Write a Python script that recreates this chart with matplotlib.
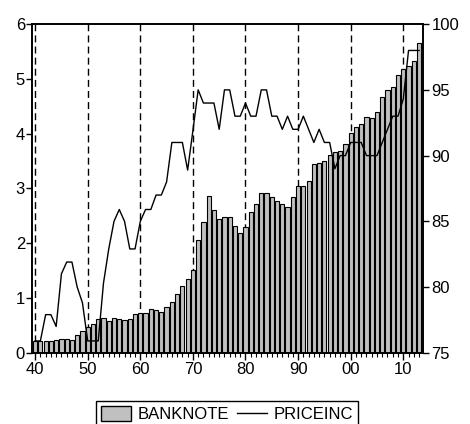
#!/usr/bin/env python3
"""
Banknote vs price index chart, EViews style.
"""

import matplotlib
matplotlib.use('Agg')
import matplotlib.pyplot as plt
from matplotlib.patches import Patch
from matplotlib.lines import Line2D

years = list(range(1940, 2014))

banknote = [
    0.21, 0.21, 0.21, 0.21, 0.24, 0.26, 0.26, 0.23, 0.33, 0.40,  # 1940s
    0.47, 0.52, 0.61, 0.64, 0.58, 0.64, 0.61, 0.60, 0.61, 0.70,  # 1950s
    0.73, 0.73, 0.80, 0.78, 0.75, 0.83, 0.92, 1.08, 1.22, 1.34,  # 1960s
    1.52, 2.06, 2.39, 2.86, 2.60, 2.45, 2.48, 2.48, 2.32, 2.19,  # 1970s
    2.29, 2.57, 2.71, 2.92, 2.92, 2.84, 2.78, 2.71, 2.66, 2.85,  # 1980s
    3.04, 3.05, 3.14, 3.44, 3.46, 3.51, 3.61, 3.67, 3.69, 3.81,  # 1990s
    4.02, 4.12, 4.17, 4.31, 4.29, 4.40, 4.67, 4.80, 4.85, 5.07,  # 2000s
    5.19, 5.24, 5.32, 5.66,
]

priceinc = [
    75.9, 75.9, 77.9, 77.9, 77.0, 81.0, 81.9, 81.9, 80.0, 78.8,
    75.9, 75.9, 75.9, 80.3, 82.9, 85.0, 85.9, 85.0, 82.9, 82.9,
    85.0, 85.9, 85.9, 87.0, 87.0, 88.0, 91.0, 91.0, 91.0, 88.9,
    91.9, 95.0, 94.0, 94.0, 94.0, 92.0, 95.0, 95.0, 93.0, 93.0,
    94.0, 93.0, 93.0, 95.0, 95.0, 93.0, 93.0, 92.0, 93.0, 92.0,
    92.0, 93.0, 92.0, 91.0, 92.0, 91.0, 91.0, 89.0, 90.0, 90.0,
    91.0, 91.0, 91.0, 90.0, 90.0, 90.0, 91.0, 92.0, 93.0, 93.0,
    94.3, 98.0, 98.0, 98.0,
]

decades = [1940, 1950, 1960, 1970, 1980, 1990, 2000, 2010]
decade_labels = ['40', '50', '60', '70', '80', '90', '00', '10']

plt.rcParams['font.family'] = ['Liberation Sans', 'DejaVu Sans']
plt.rcParams['font.size'] = 12

fig = plt.figure(figsize=(4.7, 4.24), dpi=100)
ax = fig.add_axes([0.068, 0.168, 0.832, 0.775])

for d in decades:
    ax.axvline(d, color='black', linestyle=(0, (5, 3)), linewidth=1.0, zorder=1)

ax.bar(years, banknote, width=0.8, color='#c0c0c0', edgecolor='black',
       linewidth=0.8, zorder=2)

ax.set_xlim(1939.4, 2013.75)
ax.set_ylim(0, 6)
ax.set_xticks(decades)
ax.set_xticklabels(decade_labels)
ax.set_xticks(years, minor=True)
ax.set_yticks(range(0, 7))
ax.tick_params(axis='x', which='major', length=5, width=1, pad=2)
ax.tick_params(axis='x', which='minor', length=3, width=0.8)
ax.tick_params(axis='y', length=4, width=1, pad=1)

ax2 = ax.twinx()
ax2.plot(years, priceinc, color='black', linewidth=1.0, zorder=3)
ax2.set_ylim(75, 100)
ax2.set_yticks(range(75, 101, 5))
ax2.tick_params(axis='y', length=4, width=1, pad=2)

for a in (ax, ax2):
    for s in a.spines.values():
        s.set_linewidth(1.2)

handles = [Patch(facecolor='#c0c0c0', edgecolor='black', linewidth=1.0),
           Line2D([], [], color='black', linewidth=1.0)]
leg = fig.legend(handles, ['BANKNOTE', 'PRICEINC'], loc='upper center',
                 bbox_to_anchor=(0.483, 0.054), ncol=2, frameon=True,
                 fancybox=False, framealpha=1, edgecolor='black',
                 handlelength=1.8, handleheight=1.0, columnspacing=0.5,
                 handletextpad=0.4, borderpad=0.3, borderaxespad=0)
leg.get_frame().set_linewidth(1.0)

plt.savefig('out.png', dpi=100)
plt.close()
